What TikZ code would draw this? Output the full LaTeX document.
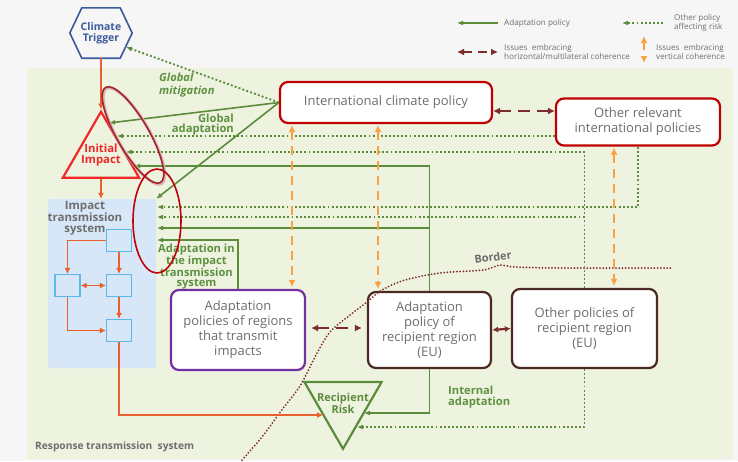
\documentclass[tikz,border=0pt]{standalone}
\usepackage{fontspec}
\setmainfont{Open Sans}
\usetikzlibrary{arrows.meta,shapes.geometric,calc}
\definecolor{bgc}{HTML}{F6F6F6}
\definecolor{greenbg}{HTML}{EEF3E0}
\definecolor{gline}{HTML}{5B8C3B}
\definecolor{gtext}{HTML}{5E9140}
\definecolor{orl}{HTML}{E95F2D}
\definecolor{ord}{HTML}{F9A040}
\definecolor{maroon}{HTML}{7D2B2B}
\definecolor{redb}{HTML}{C00000}
\definecolor{redt}{HTML}{F02828}
\definecolor{purp}{HTML}{7030A0}
\definecolor{brownb}{HTML}{4A2A22}
\definecolor{blueh}{HTML}{3A5A9C}
\definecolor{itsbg}{HTML}{D7E7F7}
\definecolor{sbox}{HTML}{5DB9E9}
\definecolor{graytx}{HTML}{6E6E6E}
\definecolor{ellA}{HTML}{A0262A}
\definecolor{ellB}{HTML}{C0000A}
\tikzset{
  pbox/.style={draw, rounded corners=8pt, line width=2.2pt, fill=white, align=center, text=graytx, font=\fontsize{13}{15}\selectfont, inner sep=0pt},
  sbx/.style={draw=sbox, fill=itsbg, line width=1.2pt, minimum width=25pt, minimum height=22pt, inner sep=0pt},
  garrow/.style={gline, line width=1.6pt, -{Latex[length=6pt,width=5pt]}},
  gdot/.style={gline, line width=1.9pt, dash pattern=on 1.9pt off 2.2pt, -{Latex[length=6pt,width=5pt]}},
  oarrow/.style={orl, line width=1.8pt, -{Latex[length=6pt,width=6pt]}},
  odbl/.style={orl, line width=1.8pt, {Latex[length=6pt,width=6pt]}-{Latex[length=6pt,width=6pt]}},
  vdash/.style={ord, line width=2.2pt, dash pattern=on 9pt off 6pt, {Latex[length=7pt,width=7pt]}-{Latex[length=7pt,width=7pt]}},
  hdash/.style={maroon, line width=2.4pt, dash pattern=on 12pt off 7pt, {Latex[length=7pt,width=7pt]}-{Latex[length=7pt,width=7pt]}},
  msolid/.style={maroon, line width=2.2pt, {Latex[length=6pt,width=6pt]}-{Latex[length=6pt,width=6pt]}},
  bord/.style={maroon, line width=2pt, line cap=round, dash pattern=on 0pt off 3.2pt},
  glab/.style={text=gtext, font=\bfseries\fontsize{11.2}{10.4}\selectfont, inner sep=0pt},
  leg/.style={text=graytx, font=\fontsize{8.1}{9}\selectfont, inner sep=0pt, align=left, anchor=west},
}
\begin{document}
\begin{tikzpicture}[x=1pt,y=-1pt]
\fill[bgc] (0,0) rectangle (738,461);
\fill[greenbg] (27,68) rectangle (733,459);
\useasboundingbox (0,0) rectangle (738,461);

% impact transmission system
\node[fill=itsbg, rounded corners=2pt, minimum width=108pt, minimum height=169pt, inner sep=0pt] (its) at (102,283.5) {};
\node[text=graytx, font=\bfseries\fontsize{11.5}{10.2}\selectfont, align=center, inner sep=0pt] (itst) at (85,218) {Impact\\transmission\\system};
\node[sbx] (b1) at (119,240.5) {};
\node[sbx] (b2) at (67.5,285.5) {};
\node[sbx] (b3) at (119,285.5) {};
\node[sbx] (b4) at (119,330.5) {};

% climate trigger
\node[minimum width=62pt, minimum height=50pt, inner sep=0pt, text=blueh, font=\bfseries\fontsize{10.5}{11}\selectfont, align=center] (trig) at (101,33) {Climate\\Trigger};
\draw[blueh, line width=1.6pt, line join=round] (trig.west) -- ($(trig.north west)+(12,0)$) -- ($(trig.north east)+(-12,0)$) -- (trig.east) -- ($(trig.south east)+(-12,0)$) -- ($(trig.south west)+(12,0)$) -- cycle;

% triangles
\node[regular polygon, regular polygon sides=3, minimum size=88pt, draw=redt, line width=2.2pt, inner sep=0pt] (ii) at (101,155.7) {};
\node[text=redt, font=\bfseries\fontsize{11.3}{11}\selectfont, align=center, inner sep=0pt] (iit) at (101,155.5) {Initial\\Impact};
\node[regular polygon, regular polygon sides=3, shape border rotate=180, minimum size=89pt, draw=gline, line width=2.2pt, inner sep=0pt] (rr) at (343,404.3) {};
\node[text=gline, font=\bfseries\fontsize{11}{10}\selectfont, align=center, inner sep=0pt] (rrt) at (343,403) {Recipient\\Risk};

% policy boxes
\node[pbox, draw=redb, minimum width=212pt, minimum height=41pt] (icp) at (386,102.5) {International climate policy};
\node[pbox, draw=redb, minimum width=164pt, minimum height=47pt] (orp) at (638,122) {Other relevant\\international policies};
\node[pbox, draw=purp, minimum width=134pt, minimum height=80pt] (apt) at (238,330) {Adaptation\\policies of regions\\that transmit\\impacts};
\node[pbox, draw=brownb, minimum width=123pt, minimum height=76pt] (apr) at (429.5,330) {Adaptation\\policy of\\recipient region\\(EU)};
\node[pbox, draw=brownb, minimum width=145pt, minimum height=79pt] (opr) at (584.5,328.5) {Other policies of\\recipient region\\(EU)};

% helper coordinates
\coordinate (trigt) at (126,47);
\coordinate (ii1) at (109,123);
\coordinate (ii2) at (117,136);
\coordinate (ii3) at (126,152);
\coordinate (ii4) at (134,166);
\coordinate (its1) at (157,207);
\coordinate (its2) at (157,217);
\coordinate (its3) at (157,228);
\coordinate (its4) at (157,240);
\coordinate (rr1) at (364,413);
\coordinate (rr2) at (357,427);
\coordinate (rrl) at (323,415);
\coordinate (hy1) at (0,111);
\coordinate (hy2) at (0,328);
\coordinate (v1) at (292,0);
\coordinate (v2) at (378,0);
\coordinate (v3) at (614,0);

% border
\draw[bord] plot[smooth] coordinates {(242,460) (262,437) (281,411) (300,386) (316,355) (330,332) (350,315) (367,302) (382,290) (405,280) (440,273) (483,270) (500,265) (515,267) (560,268) (672,268)};
\node[text=graytx, font=\bfseries\fontsize{11}{11}\selectfont, rotate=8, inner sep=0pt] (bordt) at (493,257) {Border};

% orange transmission arrows
\draw[oarrow] (trig.south) -- (ii.corner 1);
\draw[oarrow] (ii.south) -- (ii.south |- its.north);
\draw[oarrow] (b1.west) -| (b2.north);
\draw[oarrow] (b1.south) -- (b3.north);
\draw[odbl] (b2.east) -- (b3.west);
\draw[oarrow] (b3.south) -- (b4.north);
\draw[oarrow] (b2.south) |- (b4.west);
\draw[oarrow, line width=2.2pt] (b4.south) |- (rrl);

% green connectors
\draw[gdot] (icp.west) -- (trigt);
\draw[garrow] (icp.west) -- (ii1);
\draw[garrow] (icp.west) -- (its.north east);
\draw[gdot] (orp.west |- ii2) -- (ii2);
\draw[gdot] (opr.north) -- (opr.north |- ii3) -- (ii3);
\draw[gdot] (orp.south) -- (orp.south |- its1) -- (its1);
\draw[gdot] (opr.north |- its2) -- (its2);
\draw[garrow] (apr.north) -- (apr.north |- ii4) -- (ii4);
\draw[garrow] (apr.north |- its3) -- (its3);
\draw[garrow] (apt.north) -- (apt.north |- its4) -- (its4);
\draw[garrow] (apr.south) |- (rr1);
\draw[gdot] (opr.south) |- (rr2);

% coherence arrows
\draw[hdash] (icp.east |- hy1) -- (orp.west |- hy1);
\draw[hdash, shorten <=5pt, shorten >=5pt] (apt.east |- hy2) -- (apr.west |- hy2);
\draw[msolid] (apr.east) -- (opr.west);
\draw[vdash, shorten <=1pt, shorten >=2pt] (icp.south -| v1) -- (apt.north -| v1);
\draw[vdash, shorten <=1pt, shorten >=2pt] (icp.south -| v2) -- (apr.north -| v2);
\draw[vdash, shorten <=1pt, shorten >=2pt] (orp.south -| v3) -- (opr.north -| v3);

% labels
\node[glab, font=\bfseries\itshape\fontsize{11.2}{12.5}\selectfont, anchor=west, align=left] (gm) at (159,85) {Global\\mitigation};
\node[glab, anchor=east, align=right] (ga) at (234,124.5) {Global\\adaptation};
\node[glab, align=center] (ait) at (196.5,266.5) {Adaptation in\\the impact\\transmission\\system};
\node[glab, anchor=west, align=left] (ia) at (448,397) {Internal\\adaptation};
\node[text=graytx, font=\bfseries\fontsize{10.2}{10}\selectfont, anchor=west, inner sep=0pt] (rts) at (35,447) {Response transmission~~system};

% legend
\coordinate (l1a) at (498,23); \coordinate (l1b) at (457,23);
\coordinate (l2a) at (663,23); \coordinate (l2b) at (622,23);
\coordinate (l3a) at (457,52); \coordinate (l3b) at (498,52);
\coordinate (l4a) at (644,36); \coordinate (l4b) at (644,63);
\draw[garrow] (l1a) -- (l1b);
\node[leg] (l1t) at (504,23) {Adaptation policy};
\draw[gdot] (l2a) -- (l2b);
\node[leg] (l2t) at (674,22.5) {Other policy\\affecting risk};
\draw[hdash, dash pattern=on 9pt off 6pt] (l3a) -- (l3b);
\node[leg] (l3t) at (504,52) {Issues~~embracing\\horizontal/multilateral coherence};
\draw[vdash, dash pattern=on 8pt off 8pt] (l4a) -- (l4b);
\node[leg] (l4t) at (656,52) {Issues~~embracing\\vertical coherence};

% highlight ellipses
\draw[ellA!35, line width=3pt, rotate around={-60:(134,136)}] (134,136) ellipse [x radius=55pt, y radius=16pt];
\draw[ellA, line width=1.6pt, rotate around={-60:(133,135)}] (133,135) ellipse [x radius=55pt, y radius=16pt];
\draw[ellB, line width=1.6pt] (157,221) ellipse [x radius=24pt, y radius=52pt];
\end{tikzpicture}
\end{document}
